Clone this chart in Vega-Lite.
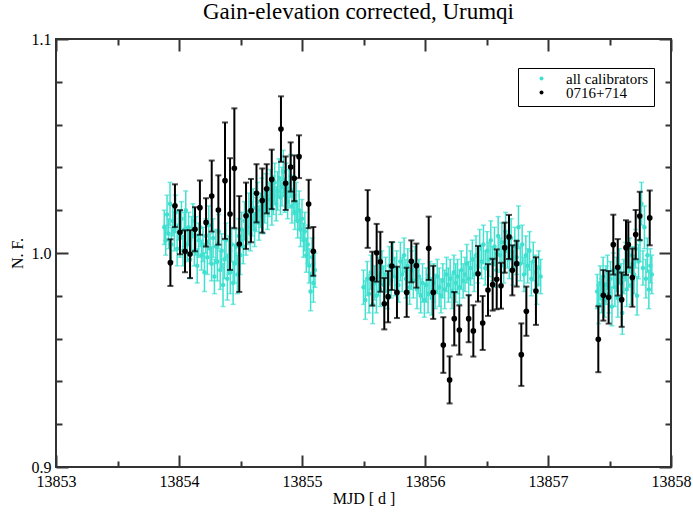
{
 "$schema": "https://vega.github.io/schema/vega-lite/v6.json",
 "width": 615, "height": 428,
 "autosize": {"type": "none"},
 "padding": {"left": 56, "top": 39, "right": 22, "bottom": 47},
 "background": "white",
 "config": {
  "view": {"stroke": "#333", "strokeWidth": 2},
  "font": "Liberation Serif",
  "axis": {"grid": false, "domain": false, "labelFont": "Liberation Serif", "titleFont": "Liberation Serif", "labelFontSize": 16, "titleFontSize": 16, "titleFontWeight": "normal", "labelColor": "black", "titleColor": "black", "tickColor": "#333", "tickWidth": 2, "labelFlush": false, "labelOverlap": false}
 },
 "title": {"text": "Gain-elevation corrected, Urumqi", "font": "Liberation Serif", "fontSize": 23, "fontWeight": "normal", "baseline": "alphabetic", "offset": 18, "dy": 29, "dx": -5, "anchor": "middle", "color": "black"},
 "datasets": {
  "cal": [
   {"x":13853.880,"y":1.012,"e":0.008},{"x":13853.892,"y":1.006,"e":0.007},{"x":13853.903,"y":1.018,"e":0.009},{"x":13853.915,"y":1.009,"e":0.007},{"x":13853.927,"y":1.023,"e":0.010},{"x":13853.938,"y":1.004,"e":0.008},{"x":13853.950,"y":1.015,"e":0.007},{"x":13853.962,"y":1.010,"e":0.009},{"x":13853.973,"y":1.019,"e":0.008},{"x":13853.985,"y":1.002,"e":0.008},{"x":13853.997,"y":1.013,"e":0.007},{"x":13854.008,"y":1.007,"e":0.009},{"x":13854.020,"y":1.016,"e":0.008},{"x":13854.032,"y":1.001,"e":0.007},{"x":13854.043,"y":1.011,"e":0.008},{"x":13854.055,"y":1.020,"e":0.009},{"x":13854.067,"y":1.004,"e":0.008},{"x":13854.078,"y":1.012,"e":0.007},{"x":13854.090,"y":0.997,"e":0.009},{"x":13854.102,"y":1.009,"e":0.008},{"x":13854.113,"y":1.015,"e":0.008},{"x":13854.125,"y":1.001,"e":0.007},{"x":13854.137,"y":1.008,"e":0.009},{"x":13854.148,"y":0.994,"e":0.008},{"x":13854.160,"y":1.006,"e":0.008},{"x":13854.172,"y":1.012,"e":0.009},{"x":13854.183,"y":0.999,"e":0.007},{"x":13854.195,"y":1.004,"e":0.008},{"x":13854.207,"y":0.991,"e":0.009},{"x":13854.218,"y":1.008,"e":0.008},{"x":13854.230,"y":0.998,"e":0.008},{"x":13854.242,"y":1.013,"e":0.009},{"x":13854.253,"y":1.002,"e":0.007},{"x":13854.265,"y":0.995,"e":0.008},{"x":13854.277,"y":1.007,"e":0.009},{"x":13854.288,"y":0.989,"e":0.008},{"x":13854.300,"y":1.003,"e":0.008},{"x":13854.312,"y":0.996,"e":0.009},{"x":13854.323,"y":1.010,"e":0.008},{"x":13854.335,"y":0.992,"e":0.009},{"x":13854.347,"y":1.001,"e":0.008},{"x":13854.358,"y":0.985,"e":0.010},{"x":13854.370,"y":0.997,"e":0.009},{"x":13854.382,"y":1.006,"e":0.008},{"x":13854.393,"y":0.988,"e":0.010},{"x":13854.405,"y":0.999,"e":0.009},{"x":13854.417,"y":0.991,"e":0.010},{"x":13854.428,"y":1.004,"e":0.008},{"x":13854.440,"y":0.986,"e":0.010},{"x":13854.452,"y":0.995,"e":0.009},{"x":13854.463,"y":1.003,"e":0.008},{"x":13854.475,"y":0.990,"e":0.009},{"x":13854.487,"y":1.008,"e":0.008},{"x":13854.498,"y":0.999,"e":0.009},{"x":13854.510,"y":1.011,"e":0.008},{"x":13854.522,"y":1.003,"e":0.008},{"x":13854.533,"y":1.015,"e":0.009},{"x":13854.545,"y":1.007,"e":0.008},{"x":13854.557,"y":1.012,"e":0.008},{"x":13854.568,"y":1.019,"e":0.009},{"x":13854.580,"y":1.009,"e":0.008},{"x":13854.592,"y":1.016,"e":0.008},{"x":13854.603,"y":1.021,"e":0.009},{"x":13854.615,"y":1.011,"e":0.008},{"x":13854.627,"y":1.018,"e":0.008},{"x":13854.638,"y":1.024,"e":0.009},{"x":13854.650,"y":1.014,"e":0.008},{"x":13854.662,"y":1.020,"e":0.008},{"x":13854.673,"y":1.026,"e":0.009},{"x":13854.685,"y":1.017,"e":0.008},{"x":13854.697,"y":1.022,"e":0.008},{"x":13854.708,"y":1.028,"e":0.009},{"x":13854.720,"y":1.019,"e":0.008},{"x":13854.732,"y":1.025,"e":0.008},{"x":13854.743,"y":1.030,"e":0.009},{"x":13854.755,"y":1.021,"e":0.008},{"x":13854.767,"y":1.027,"e":0.009},{"x":13854.778,"y":1.033,"e":0.009},{"x":13854.790,"y":1.023,"e":0.008},{"x":13854.802,"y":1.029,"e":0.009},{"x":13854.813,"y":1.035,"e":0.009},{"x":13854.825,"y":1.026,"e":0.008},{"x":13854.837,"y":1.031,"e":0.009},{"x":13854.848,"y":1.038,"e":0.010},{"x":13854.860,"y":1.027,"e":0.008},{"x":13854.872,"y":1.033,"e":0.009},{"x":13854.883,"y":1.024,"e":0.008},{"x":13854.895,"y":1.030,"e":0.009},{"x":13854.907,"y":1.036,"e":0.010},{"x":13854.918,"y":1.022,"e":0.008},{"x":13854.930,"y":1.027,"e":0.009},{"x":13854.942,"y":1.019,"e":0.008},{"x":13854.953,"y":1.024,"e":0.009},{"x":13854.965,"y":1.015,"e":0.008},{"x":13854.977,"y":1.020,"e":0.009},{"x":13854.988,"y":1.011,"e":0.008},{"x":13855.000,"y":1.016,"e":0.009},{"x":13855.012,"y":1.006,"e":0.008},{"x":13855.023,"y":1.010,"e":0.009},{"x":13855.035,"y":0.999,"e":0.008},{"x":13855.047,"y":1.004,"e":0.009},{"x":13855.058,"y":0.994,"e":0.008},{"x":13855.070,"y":0.982,"e":0.009},{"x":13855.082,"y":0.998,"e":0.009},{"x":13855.093,"y":0.986,"e":0.009},{"x":13855.105,"y":0.992,"e":0.008},
   {"x":13855.500,"y":0.984,"e":0.008},{"x":13855.515,"y":0.978,"e":0.009},{"x":13855.530,"y":0.988,"e":0.008},{"x":13855.545,"y":0.981,"e":0.009},{"x":13855.560,"y":0.991,"e":0.008},{"x":13855.575,"y":0.976,"e":0.009},{"x":13855.590,"y":0.986,"e":0.008},{"x":13855.605,"y":0.980,"e":0.008},{"x":13855.620,"y":0.989,"e":0.009},{"x":13855.635,"y":0.983,"e":0.008},{"x":13855.650,"y":0.993,"e":0.008},{"x":13855.665,"y":0.985,"e":0.009},{"x":13855.680,"y":0.990,"e":0.008},{"x":13855.695,"y":0.982,"e":0.008},{"x":13855.710,"y":0.994,"e":0.009},{"x":13855.725,"y":0.987,"e":0.008},{"x":13855.740,"y":0.997,"e":0.008},{"x":13855.755,"y":0.989,"e":0.009},{"x":13855.770,"y":0.993,"e":0.008},{"x":13855.785,"y":0.985,"e":0.008},{"x":13855.800,"y":0.996,"e":0.009},{"x":13855.815,"y":0.990,"e":0.008},{"x":13855.830,"y":0.999,"e":0.008},{"x":13855.845,"y":0.988,"e":0.009},{"x":13855.860,"y":0.994,"e":0.008},{"x":13855.875,"y":0.984,"e":0.008},{"x":13855.890,"y":0.992,"e":0.009},{"x":13855.905,"y":0.987,"e":0.008},{"x":13855.920,"y":0.995,"e":0.008},{"x":13855.935,"y":0.983,"e":0.009},{"x":13855.950,"y":0.989,"e":0.008},{"x":13855.965,"y":0.980,"e":0.008},{"x":13855.980,"y":0.986,"e":0.009},{"x":13855.995,"y":0.978,"e":0.008},{"x":13856.010,"y":0.985,"e":0.008},{"x":13856.025,"y":0.981,"e":0.009},{"x":13856.040,"y":0.988,"e":0.008},{"x":13856.055,"y":0.979,"e":0.008},{"x":13856.070,"y":0.986,"e":0.009},{"x":13856.085,"y":0.982,"e":0.008},{"x":13856.100,"y":0.989,"e":0.008},{"x":13856.115,"y":0.984,"e":0.009},{"x":13856.130,"y":0.980,"e":0.008},{"x":13856.145,"y":0.987,"e":0.008},{"x":13856.160,"y":0.983,"e":0.009},{"x":13856.175,"y":0.990,"e":0.008},{"x":13856.190,"y":0.985,"e":0.008},{"x":13856.205,"y":0.988,"e":0.009},{"x":13856.220,"y":0.982,"e":0.008},{"x":13856.235,"y":0.991,"e":0.008},{"x":13856.250,"y":0.986,"e":0.009},{"x":13856.265,"y":0.989,"e":0.008},{"x":13856.280,"y":0.984,"e":0.008},{"x":13856.295,"y":0.992,"e":0.009},{"x":13856.310,"y":0.987,"e":0.008},{"x":13856.325,"y":0.990,"e":0.008},{"x":13856.340,"y":0.995,"e":0.009},{"x":13856.355,"y":0.988,"e":0.008},{"x":13856.370,"y":0.993,"e":0.008},{"x":13856.385,"y":0.997,"e":0.009},{"x":13856.400,"y":0.990,"e":0.008},{"x":13856.415,"y":0.999,"e":0.009},{"x":13856.430,"y":0.994,"e":0.008},{"x":13856.445,"y":1.002,"e":0.009},{"x":13856.460,"y":0.996,"e":0.008},{"x":13856.475,"y":1.004,"e":0.009},{"x":13856.490,"y":0.993,"e":0.008},{"x":13856.505,"y":1.001,"e":0.009},{"x":13856.520,"y":0.997,"e":0.008},{"x":13856.535,"y":1.006,"e":0.009},{"x":13856.550,"y":0.995,"e":0.008},{"x":13856.565,"y":1.003,"e":0.009},{"x":13856.580,"y":0.992,"e":0.008},{"x":13856.595,"y":1.008,"e":0.009},{"x":13856.610,"y":0.999,"e":0.008},{"x":13856.625,"y":1.005,"e":0.009},{"x":13856.640,"y":0.994,"e":0.008},{"x":13856.655,"y":1.010,"e":0.009},{"x":13856.670,"y":1.001,"e":0.008},{"x":13856.685,"y":0.997,"e":0.009},{"x":13856.700,"y":1.007,"e":0.009},{"x":13856.715,"y":0.993,"e":0.008},{"x":13856.730,"y":1.003,"e":0.009},{"x":13856.745,"y":0.998,"e":0.008},{"x":13856.760,"y":1.012,"e":0.010},{"x":13856.775,"y":0.995,"e":0.008},{"x":13856.790,"y":1.004,"e":0.009},{"x":13856.805,"y":0.990,"e":0.008},{"x":13856.820,"y":0.999,"e":0.009},{"x":13856.835,"y":0.994,"e":0.008},{"x":13856.850,"y":1.001,"e":0.009},{"x":13856.865,"y":0.988,"e":0.008},{"x":13856.880,"y":0.996,"e":0.009},{"x":13856.895,"y":0.991,"e":0.008},{"x":13856.910,"y":0.985,"e":0.009},{"x":13856.925,"y":0.993,"e":0.008},{"x":13856.940,"y":0.989,"e":0.008},
   {"x":13857.400,"y":0.982,"e":0.008},{"x":13857.412,"y":0.976,"e":0.009},{"x":13857.424,"y":0.986,"e":0.008},{"x":13857.436,"y":0.980,"e":0.008},{"x":13857.448,"y":0.989,"e":0.009},{"x":13857.460,"y":0.978,"e":0.008},{"x":13857.472,"y":0.985,"e":0.009},{"x":13857.484,"y":0.991,"e":0.008},{"x":13857.496,"y":0.981,"e":0.009},{"x":13857.508,"y":0.988,"e":0.008},{"x":13857.520,"y":0.975,"e":0.009},{"x":13857.532,"y":0.992,"e":0.008},{"x":13857.544,"y":0.984,"e":0.009},{"x":13857.556,"y":0.990,"e":0.008},{"x":13857.568,"y":0.979,"e":0.009},{"x":13857.580,"y":0.994,"e":0.008},{"x":13857.592,"y":0.986,"e":0.009},{"x":13857.604,"y":0.972,"e":0.010},{"x":13857.616,"y":0.989,"e":0.008},{"x":13857.628,"y":0.996,"e":0.009},{"x":13857.640,"y":0.983,"e":0.008},{"x":13857.652,"y":0.993,"e":0.009},{"x":13857.664,"y":0.999,"e":0.008},{"x":13857.676,"y":0.985,"e":0.009},{"x":13857.688,"y":0.995,"e":0.008},{"x":13857.700,"y":0.990,"e":0.009},{"x":13857.712,"y":1.002,"e":0.009},{"x":13857.724,"y":0.980,"e":0.009},{"x":13857.736,"y":0.996,"e":0.008},{"x":13857.748,"y":1.006,"e":0.010},{"x":13857.760,"y":1.023,"e":0.010},{"x":13857.772,"y":0.993,"e":0.008},{"x":13857.784,"y":1.012,"e":0.010},{"x":13857.796,"y":0.988,"e":0.009},{"x":13857.808,"y":0.999,"e":0.008},{"x":13857.820,"y":0.983,"e":0.009},{"x":13857.832,"y":0.994,"e":0.008},{"x":13857.844,"y":0.990,"e":0.009}
  ],
  "src": [
   {"x":13853.930,"y":0.9955,"e":0.0109},{"x":13853.967,"y":1.0221,"e":0.0100},{"x":13854.008,"y":1.0097,"e":0.0103},{"x":13854.049,"y":1.0008,"e":0.0098},{"x":13854.090,"y":0.9995,"e":0.0112},{"x":13854.130,"y":1.0111,"e":0.0103},{"x":13854.170,"y":1.0212,"e":0.0127},{"x":13854.220,"y":1.0143,"e":0.0113},{"x":13854.266,"y":1.0266,"e":0.0166},{"x":13854.320,"y":1.0201,"e":0.0162},{"x":13854.374,"y":1.0338,"e":0.0272},{"x":13854.415,"y":1.0182,"e":0.0261},{"x":13854.450,"y":1.0396,"e":0.0280},{"x":13854.490,"y":1.0042,"e":0.0224},{"x":13854.545,"y":1.0174,"e":0.0155},{"x":13854.585,"y":1.0198,"e":0.0148},{"x":13854.630,"y":1.0279,"e":0.0136},{"x":13854.677,"y":1.0245,"e":0.0150},{"x":13854.713,"y":1.0300,"e":0.0115},{"x":13854.754,"y":1.0344,"e":0.0139},{"x":13854.829,"y":1.0579,"e":0.0153},{"x":13854.867,"y":1.0326,"e":0.0125},{"x":13854.908,"y":1.0402,"e":0.0115},{"x":13854.937,"y":1.0349,"e":0.0107},{"x":13854.976,"y":1.0450,"e":0.0100},{"x":13855.054,"y":1.0229,"e":0.0113},{"x":13855.092,"y":1.0008,"e":0.0114},
   {"x":13855.534,"y":1.0159,"e":0.0135},{"x":13855.572,"y":0.9880,"e":0.0126},{"x":13855.607,"y":1.0001,"e":0.0135},{"x":13855.637,"y":0.9959,"e":0.0140},{"x":13855.669,"y":0.9763,"e":0.0120},{"x":13855.700,"y":0.9796,"e":0.0120},{"x":13855.730,"y":0.9939,"e":0.0112},{"x":13855.772,"y":0.9816,"e":0.0120},{"x":13855.851,"y":0.9816,"e":0.0115},{"x":13855.889,"y":0.9961,"e":0.0098},{"x":13855.930,"y":0.9941,"e":0.0103},{"x":13856.030,"y":1.0022,"e":0.0148},{"x":13856.067,"y":0.9816,"e":0.0124},{"x":13856.149,"y":0.9570,"e":0.0130},{"x":13856.200,"y":0.9407,"e":0.0110},{"x":13856.238,"y":0.9693,"e":0.0125},{"x":13856.279,"y":0.9640,"e":0.0115},{"x":13856.355,"y":0.9693,"e":0.0110},{"x":13856.393,"y":0.9636,"e":0.0120},{"x":13856.431,"y":0.9903,"e":0.0130},{"x":13856.469,"y":0.9673,"e":0.0126},{"x":13856.512,"y":0.9827,"e":0.0121},{"x":13856.550,"y":0.9852,"e":0.0121},{"x":13856.583,"y":0.9877,"e":0.0140},{"x":13856.618,"y":0.9847,"e":0.0107},{"x":13856.648,"y":1.0025,"e":0.0117},{"x":13856.683,"y":1.0075,"e":0.0103},{"x":13856.710,"y":0.9919,"e":0.0117},{"x":13856.745,"y":0.9950,"e":0.0107},{"x":13856.783,"y":0.9525,"e":0.0146},{"x":13856.824,"y":0.9728,"e":0.0115},{"x":13856.902,"y":0.9822,"e":0.0158},
   {"x":13857.409,"y":0.9597,"e":0.0154},{"x":13857.450,"y":0.9802,"e":0.0118},{"x":13857.493,"y":0.9793,"e":0.0123},{"x":13857.531,"y":1.0039,"e":0.0140},{"x":13857.567,"y":0.9933,"e":0.0132},{"x":13857.599,"y":0.9782,"e":0.0127},{"x":13857.634,"y":1.0025,"e":0.0128},{"x":13857.653,"y":1.0039,"e":0.0107},{"x":13857.686,"y":0.9885,"e":0.0136},{"x":13857.713,"y":1.0086,"e":0.0115},{"x":13857.746,"y":1.0173,"e":0.0113},{"x":13857.827,"y":1.0164,"e":0.0128}
  ]
 },
 "resolve": {"axis": {"x": "independent", "y": "independent"}},
 "layer": [
  {
   "data": {"name": "cal"},
   "mark": {"type": "errorbar", "ticks": {"size": 5}, "color": "#40E0D0", "thickness": 1.5},
   "encoding": {
    "x": {"field": "x", "type": "quantitative", "scale": {"domain": [13853, 13858], "nice": false, "zero": false},
          "axis": {"orient": "bottom", "values": [13853, 13854, 13855, 13856, 13857, 13858], "format": "d", "tickSize": -12, "labelPadding": 18, "title": "MJD [ d ]", "titlePadding": 1}},
    "y": {"field": "y", "type": "quantitative", "scale": {"domain": [0.9, 1.1], "nice": false, "zero": false},
          "axis": {"orient": "left", "values": [0.9, 1.0, 1.1], "format": ".1f", "tickSize": -12, "labelPadding": 17, "title": "N. F.", "titlePadding": 6}},
    "yError": {"field": "e"}
   }
  },
  {
   "data": {"name": "cal"},
   "mark": {"type": "point", "filled": true, "size": 20, "opacity": 1},
   "encoding": {
    "x": {"field": "x", "type": "quantitative", "axis": {"orient": "bottom", "values": [13853.5, 13854.5, 13855.5, 13856.5, 13857.5], "labels": false, "tickSize": -6, "title": null}},
    "y": {"field": "y", "type": "quantitative", "axis": {"orient": "left", "values": [0.92, 0.94, 0.96, 0.98, 1.02, 1.04, 1.06, 1.08], "labels": false, "tickSize": -6, "title": null}},
    "color": {"datum": "all calibrators", "type": "nominal",
              "scale": {"domain": ["all calibrators", "0716+714"], "range": ["#40E0D0", "#000000"]},
              "legend": {"orient": "none", "legendX": 462, "legendY": 29, "title": null, "strokeColor": "black", "fillColor": "white", "padding": 5, "labelFont": "Liberation Serif", "labelFontSize": 15, "labelColor": "black", "symbolType": "circle", "symbolSize": 16, "symbolStrokeWidth": 0, "rowPadding": -6, "clipHeight": 11, "symbolOffset": 11, "labelOffset": 17}}
   }
  },
  {
   "data": {"name": "src"},
   "mark": {"type": "errorbar", "ticks": {"size": 6}, "color": "black", "thickness": 2},
   "encoding": {
    "x": {"field": "x", "type": "quantitative", "axis": {"orient": "top", "values": [13853, 13854, 13855, 13856, 13857, 13858], "labels": false, "tickSize": -12, "title": null, "minExtent": 0, "maxExtent": 0}},
    "y": {"field": "y", "type": "quantitative", "axis": {"orient": "right", "values": [0.9, 1.0, 1.1], "labels": false, "tickSize": -12, "title": null, "minExtent": 0, "maxExtent": 0}},
    "yError": {"field": "e"}
   }
  },
  {
   "data": {"name": "src"},
   "mark": {"type": "point", "filled": true, "size": 32, "opacity": 1},
   "encoding": {
    "x": {"field": "x", "type": "quantitative", "axis": {"orient": "top", "values": [13853.5, 13854.5, 13855.5, 13856.5, 13857.5], "labels": false, "tickSize": -6, "title": null, "minExtent": 0, "maxExtent": 0}},
    "y": {"field": "y", "type": "quantitative", "axis": {"orient": "right", "values": [0.92, 0.94, 0.96, 0.98, 1.02, 1.04, 1.06, 1.08], "labels": false, "tickSize": -6, "title": null, "minExtent": 0, "maxExtent": 0}},
    "color": {"datum": "0716+714", "type": "nominal"}
   }
  }
 ]
}
